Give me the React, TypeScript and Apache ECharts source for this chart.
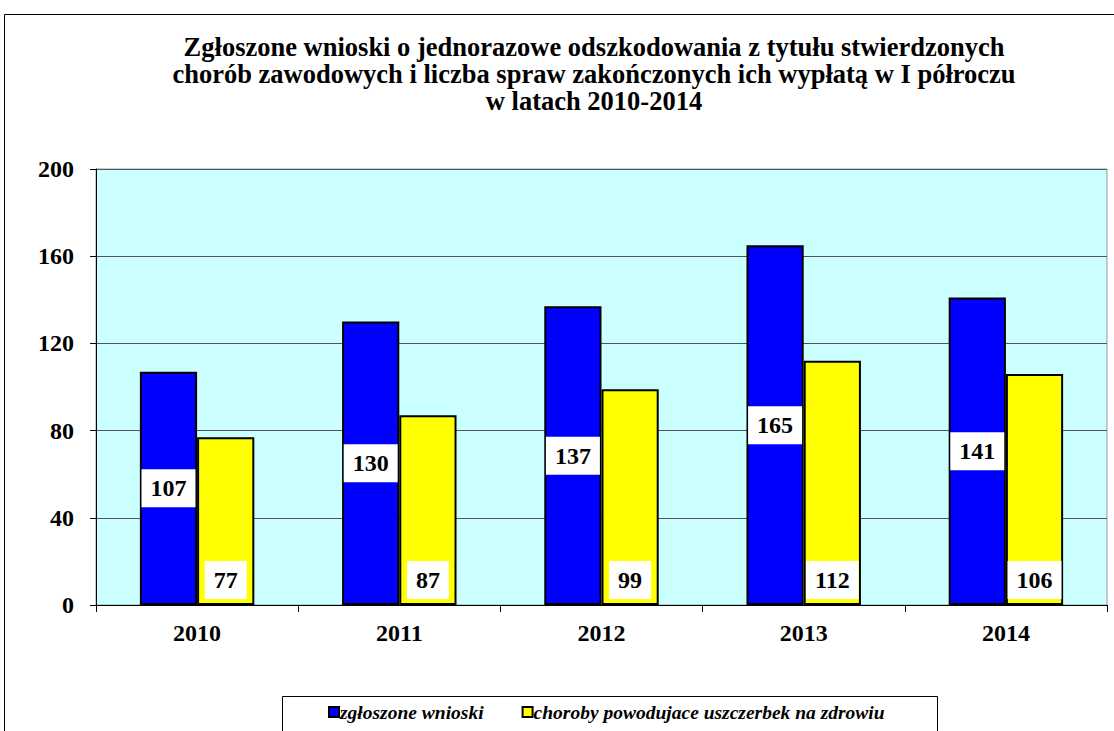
import React, { useEffect, useRef } from "react";
import * as echarts from "echarts";

const titleText =
  "Zgłoszone wnioski o jednorazowe odszkodowania z tytułu stwierdzonych\nchorób zawodowych i liczba spraw zakończonych ich wypłatą w I półroczu\nw latach 2010-2014";
const years = ["2010", "2011", "2012", "2013", "2014"];
const wnioski = [107, 130, 137, 165, 141];
const choroby = [77, 87, 99, 112, 106];
const seriesNames = ["zgłoszone wnioski", "choroby powodujace uszczerbek na zdrowiu"];
const yTicks = { min: 0, max: 200, interval: 40 };

const FONT = "Liberation Serif";

export default function App() {
  const ref = useRef<HTMLDivElement>(null);
  useEffect(() => {
    if (!ref.current) return;
    const chart = echarts.init(ref.current, undefined, { renderer: "svg" });
    const labelBase = {
      show: true,
      color: "#000",
      fontFamily: FONT,
      fontWeight: "bold",
      fontSize: 24,
      lineHeight: 24,
      backgroundColor: "#fff",
      padding: [7, 9, 7, 9],
    };
    chart.setOption({
      animation: false,
      backgroundColor: "#fff",
      title: {
        text: titleText,
        left: 589,
        top: 28,
        textAlign: "center",
        textStyle: {
          fontFamily: FONT,
          fontWeight: "bold",
          fontSize: 26.5,
          lineHeight: 27,
          color: "#000",
        },
      },
      graphic: [
        {
          type: "rect",
          shape: { x: 4.5, y: 14.5, width: 1200, height: 800 },
          style: { fill: "none", stroke: "#000", lineWidth: 1 },
          silent: true,
          z: -1,
        },
        {
          type: "rect",
          shape: { x: 282.5, y: 696.5, width: 655, height: 60 },
          style: { fill: "#fff", stroke: "#000", lineWidth: 1 },
          silent: true,
          z: 0,
        },
      ],
      legend: {
        data: seriesNames,
        left: 323,
        top: 697,
        itemWidth: 10,
        itemHeight: 10,
        itemGap: 38,
        icon: "rect",
        textStyle: {
          fontFamily: FONT,
          fontWeight: "bold",
          fontStyle: "italic",
          fontSize: 19.5,
          color: "#000",
          padding: [0, 0, 0, -4],
        },
        z: 5,
      },
      grid: {
        left: 96,
        right: 7,
        top: 169,
        bottom: 126,
        show: true,
        backgroundColor: "#ccffff",
        borderColor: "#999",
        borderWidth: 1,
      },
      xAxis: {
        type: "category",
        data: years,
        axisLine: { lineStyle: { color: "#000", width: 1 } },
        axisTick: { show: true, length: 7, lineStyle: { color: "#000" } },
        axisLabel: {
          fontFamily: FONT,
          fontWeight: "bold",
          fontSize: 24,
          color: "#000",
          margin: 16,
        },
      },
      yAxis: {
        type: "value",
        min: yTicks.min,
        max: yTicks.max,
        interval: yTicks.interval,
        axisLine: { show: true, lineStyle: { color: "#000", width: 1 } },
        axisTick: { show: true, length: 6, lineStyle: { color: "#000" } },
        splitLine: { show: true, lineStyle: { color: "#555", width: 1 } },
        axisLabel: {
          fontFamily: FONT,
          fontWeight: "bold",
          fontSize: 24,
          color: "#000",
          margin: 22,
        },
      },
      series: [
        {
          name: seriesNames[0],
          type: "bar",
          data: wnioski,
          barWidth: "28.3%",
          barGap: "0%",
          itemStyle: { color: "#0000ff", borderColor: "#000", borderWidth: 2 },
          label: { ...labelBase, position: "inside" },
        },
        {
          name: seriesNames[1],
          type: "bar",
          data: choroby,
          barWidth: "28.3%",
          itemStyle: { color: "#ffff00", borderColor: "#000", borderWidth: 2 },
          label: { ...labelBase, position: "insideBottom", distance: 6 },
        },
      ],
    });
    return () => chart.dispose();
  }, []);
  return (
    <div
      ref={ref}
      style={{ position: "fixed", left: 0, top: 0, width: 1114, height: 731 }}
    />
  );
}
